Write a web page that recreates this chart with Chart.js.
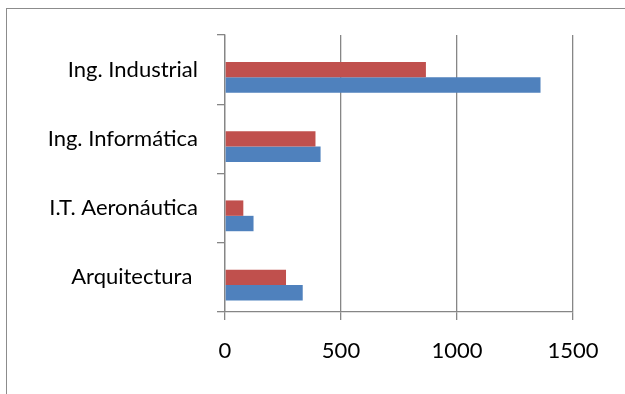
<!DOCTYPE html>
<html>
<head>
<meta charset="utf-8">
<script src="https://cdn.jsdelivr.net/npm/chart.js@4.4.1/dist/chart.umd.min.js"></script>
<style>
    body { margin: 0; background: #fff; }
    #marco {
        position: absolute; left: 6px; top: 8px; width: 700px; height: 500px;
        border-left: 1px solid #8c8c8c; border-top: 1px solid #8c8c8c;
    }
    #contenedor { position: absolute; left: 0; top: 0; width: 625px; height: 394px; }
</style>
</head>
<body>
<div id="marco"></div>
<div id="contenedor"><canvas id="grafica-barras"></canvas></div>
<script>
// Carreras y plazas por serie
const carreras = ["Ing. Industrial", "Ing. Informática", "I.T. Aeronáutica", "Arquitectura "];
const serieVacia = [null, null, null, null];
const serieRoja = [866, 390, 79, 263];
const serieAzul = [1360, 412, 123, 335];
const marcasX = [0, 500, 1000, 1500];

const colorEje = "#868686";
const fuente = { family: "Lato", size: 22 };

const ctx = document.getElementById("grafica-barras").getContext("2d");

new Chart(ctx, {
    type: "bar",
    data: {
        labels: carreras,
        datasets: [{
            label: "Serie 3",
            data: serieVacia,
            backgroundColor: "#9BBB59"
        }, {
            label: "Serie 2",
            data: serieRoja,
            backgroundColor: "#C0504D"
        }, {
            label: "Serie 1",
            data: serieAzul,
            backgroundColor: "#4F81BD"
        }]
    },
    options: {
        indexAxis: "y",
        responsive: true,
        maintainAspectRatio: false,
        animation: false,
        layout: {
            padding: { left: 0, top: 35, right: 52, bottom: 0 }
        },
        datasets: {
            bar: {
                categoryPercentage: 0.667,
                barPercentage: 1,
                borderWidth: 0
            }
        },
        scales: {
            x: {
                min: 0,
                max: 1500,
                afterBuildTicks: (scale) => {
                    scale.ticks = marcasX.map(v => ({ value: v }));
                },
                afterFit: (scale) => { scale.height = 82; },
                grid: {
                    color: colorEje,
                    lineWidth: 1.3,
                    tickLength: 8
                },
                border: { color: colorEje, width: 1.3 },
                ticks: {
                    color: "#000",
                    font: fuente,
                    padding: 18,
                    maxRotation: 0,
                    callback: (valor) => String(valor)
                }
            },
            y: {
                afterFit: (scale) => { scale.width = 225; },
                grid: {
                    color: colorEje,
                    lineWidth: 1.3,
                    drawOnChartArea: false,
                    tickLength: 8,
                    offset: true
                },
                border: { color: colorEje, width: 1.3 },
                ticks: {
                    color: "#000",
                    font: fuente,
                    padding: 19
                }
            }
        },
        plugins: {
            legend: { display: false },
            tooltip: { enabled: false }
        }
    }
});
</script>
</body>
</html>
